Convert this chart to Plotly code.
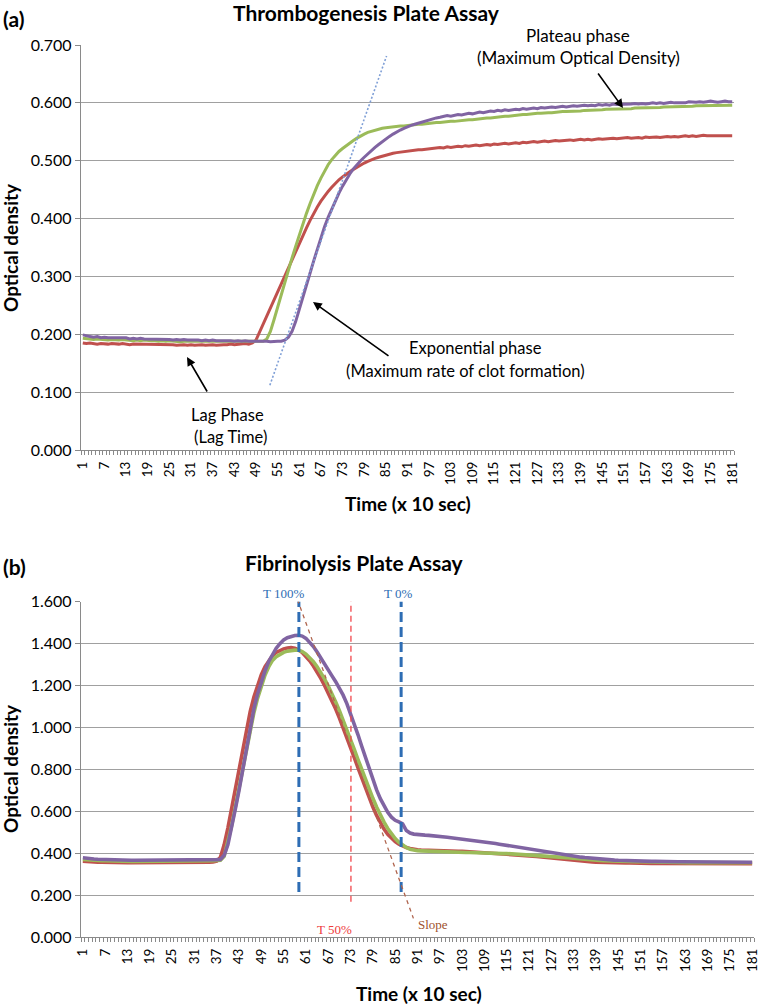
import plotly.graph_objects as go

W, H = 761, 1006

# ---------------- data ----------------
time_idx = list(range(1, 182))
tick_vals = list(range(1, 182, 6))
tick_text = [str(v) for v in tick_vals]

# (a) Thrombogenesis plate assay
thrombo_red = [
    0.185, 0.184, 0.185, 0.184, 0.183, 0.184, 0.183, 0.183, 0.184, 0.183,
    0.183, 0.184, 0.183, 0.182, 0.183, 0.183, 0.182, 0.183, 0.182, 0.182,
    0.183, 0.182, 0.182, 0.183, 0.182, 0.182, 0.181, 0.182, 0.182, 0.181,
    0.182, 0.181, 0.182, 0.182, 0.181, 0.182, 0.182, 0.181, 0.182, 0.182,
    0.182, 0.183, 0.182, 0.183, 0.183, 0.184, 0.183, 0.185, 0.190, 0.204,
    0.218, 0.232, 0.246, 0.260, 0.274, 0.288, 0.302, 0.316, 0.330, 0.344,
    0.358, 0.371, 0.384, 0.397, 0.409, 0.420, 0.430, 0.439, 0.447, 0.454,
    0.461, 0.467, 0.472, 0.477, 0.481, 0.485, 0.489, 0.493, 0.496, 0.499,
    0.502, 0.504, 0.506, 0.508, 0.510, 0.512, 0.513, 0.514, 0.515, 0.516,
    0.517, 0.517, 0.518, 0.519, 0.519, 0.520, 0.521, 0.521, 0.522, 0.523,
    0.522, 0.524, 0.523, 0.524, 0.525, 0.524, 0.526, 0.525, 0.526, 0.527,
    0.526, 0.527, 0.528, 0.527, 0.529, 0.528, 0.529, 0.530, 0.529, 0.530,
    0.531, 0.530, 0.532, 0.531, 0.532, 0.533, 0.532, 0.533, 0.534, 0.533,
    0.534, 0.535, 0.534, 0.535, 0.535, 0.536, 0.535, 0.536, 0.537, 0.536,
    0.537, 0.536, 0.537, 0.538, 0.537, 0.538, 0.538, 0.539, 0.538, 0.539,
    0.539, 0.540, 0.539, 0.540, 0.540, 0.539, 0.541, 0.540, 0.541, 0.541,
    0.540, 0.541, 0.542, 0.541, 0.542, 0.541, 0.542, 0.543, 0.542, 0.543,
    0.542, 0.543, 0.544, 0.543, 0.543, 0.544, 0.543, 0.544, 0.543, 0.544, 0.543,
]
thrombo_green = [
    0.193, 0.192, 0.192, 0.191, 0.192, 0.191, 0.191, 0.190, 0.191, 0.190,
    0.190, 0.191, 0.190, 0.190, 0.189, 0.190, 0.189, 0.190, 0.189, 0.189,
    0.189, 0.188, 0.189, 0.188, 0.189, 0.188, 0.188, 0.187, 0.188, 0.188,
    0.187, 0.188, 0.187, 0.187, 0.188, 0.187, 0.187, 0.188, 0.187, 0.187,
    0.187, 0.188, 0.187, 0.187, 0.188, 0.187, 0.188, 0.187, 0.188, 0.188,
    0.188, 0.192, 0.205, 0.225, 0.247, 0.269, 0.290, 0.311, 0.332, 0.352,
    0.372, 0.391, 0.409, 0.426, 0.442, 0.457, 0.470, 0.482, 0.493, 0.502,
    0.510, 0.516, 0.521, 0.526, 0.531, 0.535, 0.539, 0.543, 0.546, 0.549,
    0.551, 0.553, 0.554, 0.556, 0.557, 0.558, 0.558, 0.559, 0.560, 0.560,
    0.561, 0.562, 0.562, 0.563, 0.563, 0.564, 0.565, 0.565, 0.566, 0.566,
    0.567, 0.567, 0.568, 0.568, 0.569, 0.570, 0.570, 0.571, 0.571, 0.572,
    0.573, 0.573, 0.574, 0.574, 0.575, 0.576, 0.576, 0.577, 0.577, 0.578,
    0.579, 0.579, 0.580, 0.580, 0.581, 0.581, 0.582, 0.582, 0.583, 0.583,
    0.583, 0.584, 0.584, 0.585, 0.585, 0.585, 0.586, 0.586, 0.586, 0.587,
    0.587, 0.587, 0.588, 0.588, 0.588, 0.589, 0.589, 0.589, 0.589, 0.590,
    0.590, 0.590, 0.590, 0.591, 0.591, 0.591, 0.591, 0.592, 0.592, 0.592,
    0.592, 0.593, 0.593, 0.593, 0.593, 0.594, 0.594, 0.594, 0.594, 0.594,
    0.595, 0.595, 0.595, 0.595, 0.595, 0.596, 0.596, 0.596, 0.596, 0.596, 0.596,
]
thrombo_purple = [
    0.199, 0.197, 0.196, 0.195, 0.196, 0.194, 0.195, 0.194, 0.194, 0.193,
    0.194, 0.193, 0.194, 0.192, 0.193, 0.192, 0.193, 0.192, 0.192, 0.191,
    0.192, 0.191, 0.192, 0.191, 0.191, 0.190, 0.191, 0.190, 0.191, 0.190,
    0.190, 0.191, 0.190, 0.189, 0.190, 0.189, 0.190, 0.189, 0.189, 0.190,
    0.189, 0.189, 0.188, 0.189, 0.188, 0.189, 0.188, 0.188, 0.189, 0.188,
    0.188, 0.188, 0.187, 0.188, 0.188, 0.188, 0.190, 0.195, 0.205, 0.222,
    0.242, 0.263, 0.285, 0.306, 0.327, 0.348, 0.368, 0.386, 0.402, 0.417,
    0.431, 0.444, 0.456, 0.467, 0.477, 0.486, 0.494, 0.500, 0.506, 0.512,
    0.518, 0.523, 0.528, 0.533, 0.538, 0.542, 0.546, 0.550, 0.553, 0.556,
    0.559, 0.561, 0.563, 0.565, 0.567, 0.569, 0.571, 0.572, 0.574, 0.575,
    0.576, 0.578, 0.577, 0.579, 0.580, 0.579, 0.581, 0.582, 0.581, 0.583,
    0.584, 0.583, 0.585, 0.586, 0.585, 0.587, 0.586, 0.588, 0.587, 0.588,
    0.589, 0.588, 0.590, 0.589, 0.590, 0.591, 0.590, 0.592, 0.591, 0.592,
    0.593, 0.592, 0.593, 0.594, 0.593, 0.594, 0.595, 0.594, 0.595, 0.596,
    0.595, 0.596, 0.595, 0.597, 0.596, 0.597, 0.596, 0.598, 0.597, 0.597,
    0.598, 0.597, 0.598, 0.599, 0.598, 0.599, 0.598, 0.599, 0.600, 0.599,
    0.600, 0.599, 0.600, 0.601, 0.600, 0.600, 0.601, 0.600, 0.602, 0.601,
    0.601, 0.602, 0.601, 0.602, 0.603, 0.602, 0.601, 0.602, 0.603, 0.602, 0.602,
]
# dotted tangent line (exponential phase)
tangent_x = [52.85, 85.2]
tangent_y = [0.112, 0.681]

# (b) Fibrinolysis plate assay
fibrino_red = [
    0.362, 0.360, 0.359, 0.358, 0.357, 0.357, 0.356, 0.356, 0.355, 0.355,
    0.355, 0.354, 0.354, 0.354, 0.354, 0.353, 0.353, 0.354, 0.353, 0.353,
    0.353, 0.353, 0.353, 0.354, 0.353, 0.353, 0.354, 0.354, 0.354, 0.355,
    0.355, 0.355, 0.356, 0.356, 0.357, 0.358, 0.362, 0.380, 0.440, 0.520,
    0.610, 0.700, 0.790, 0.890, 0.990, 1.075, 1.145, 1.205, 1.252, 1.290,
    1.320, 1.342, 1.358, 1.368, 1.375, 1.379, 1.381, 1.378, 1.370, 1.357,
    1.340, 1.318, 1.293, 1.265, 1.234, 1.200, 1.165, 1.128, 1.088, 1.045,
    1.000, 0.953, 0.905, 0.856, 0.807, 0.758, 0.710, 0.664, 0.620, 0.580,
    0.545, 0.515, 0.490, 0.470, 0.455, 0.443, 0.434, 0.427, 0.422, 0.418,
    0.416, 0.415, 0.414, 0.413, 0.413, 0.412, 0.412, 0.411, 0.411, 0.410,
    0.410, 0.409, 0.409, 0.408, 0.407, 0.406, 0.405, 0.404, 0.402, 0.400,
    0.399, 0.398, 0.397, 0.396, 0.395, 0.394, 0.393, 0.392, 0.391, 0.390,
    0.388, 0.386, 0.384, 0.382, 0.380, 0.378, 0.376, 0.374, 0.372, 0.370,
    0.368, 0.366, 0.364, 0.362, 0.361, 0.360, 0.359, 0.358, 0.357, 0.356,
    0.356, 0.355, 0.355, 0.354, 0.354, 0.353, 0.353, 0.353, 0.352, 0.352,
    0.352, 0.352, 0.351, 0.351, 0.351, 0.351, 0.351, 0.350, 0.350, 0.350,
    0.350, 0.350, 0.349, 0.350, 0.350, 0.349, 0.350, 0.350, 0.350, 0.349,
    0.350, 0.350, 0.350, 0.349, 0.350, 0.350, 0.350, 0.351, 0.350, 0.350, 0.350,
]
fibrino_green = [
    0.370, 0.368, 0.367, 0.366, 0.365, 0.364, 0.364, 0.363, 0.363, 0.362,
    0.362, 0.362, 0.361, 0.361, 0.361, 0.361, 0.360, 0.360, 0.360, 0.360,
    0.360, 0.360, 0.360, 0.360, 0.360, 0.361, 0.361, 0.361, 0.361, 0.362,
    0.362, 0.362, 0.363, 0.363, 0.364, 0.364, 0.365, 0.366, 0.385, 0.450,
    0.530, 0.620, 0.710, 0.800, 0.900, 0.990, 1.070, 1.140, 1.200, 1.250,
    1.290, 1.320, 1.337, 1.350, 1.358, 1.364, 1.367, 1.369, 1.368, 1.362,
    1.350, 1.334, 1.314, 1.290, 1.262, 1.232, 1.198, 1.162, 1.122, 1.080,
    1.036, 0.990, 0.943, 0.895, 0.847, 0.799, 0.752, 0.706, 0.662, 0.620,
    0.582, 0.548, 0.518, 0.492, 0.470, 0.452, 0.438, 0.427, 0.419, 0.414,
    0.412, 0.411, 0.410, 0.409, 0.408, 0.408, 0.407, 0.406, 0.406, 0.405,
    0.405, 0.404, 0.404, 0.403, 0.403, 0.402, 0.402, 0.401, 0.401, 0.400,
    0.400, 0.399, 0.399, 0.398, 0.398, 0.397, 0.396, 0.396, 0.395, 0.394,
    0.393, 0.392, 0.391, 0.390, 0.389, 0.388, 0.386, 0.385, 0.383, 0.381,
    0.379, 0.377, 0.375, 0.373, 0.371, 0.369, 0.368, 0.367, 0.366, 0.365,
    0.364, 0.363, 0.362, 0.362, 0.361, 0.361, 0.360, 0.360, 0.359, 0.359,
    0.359, 0.358, 0.358, 0.358, 0.357, 0.357, 0.357, 0.357, 0.356, 0.356,
    0.356, 0.356, 0.356, 0.355, 0.355, 0.355, 0.355, 0.355, 0.355, 0.355,
    0.355, 0.354, 0.354, 0.354, 0.354, 0.354, 0.354, 0.354, 0.354, 0.354, 0.354,
]
fibrino_purple = [
    0.378, 0.375, 0.373, 0.372, 0.371, 0.370, 0.369, 0.369, 0.368, 0.368,
    0.367, 0.367, 0.367, 0.366, 0.366, 0.366, 0.366, 0.365, 0.365, 0.365,
    0.365, 0.365, 0.365, 0.365, 0.365, 0.365, 0.366, 0.366, 0.366, 0.366,
    0.366, 0.367, 0.367, 0.367, 0.368, 0.368, 0.369, 0.370, 0.390, 0.440,
    0.520, 0.610, 0.700, 0.800, 0.910, 1.010, 1.090, 1.160, 1.220, 1.270,
    1.315, 1.350, 1.378, 1.400, 1.417, 1.428, 1.435, 1.439, 1.440, 1.436,
    1.425, 1.408, 1.386, 1.360, 1.330, 1.298, 1.272, 1.246, 1.218, 1.188,
    1.154, 1.114, 1.068, 1.018, 0.965, 0.910, 0.856, 0.802, 0.750, 0.702,
    0.660, 0.624, 0.595, 0.572, 0.557, 0.549, 0.540, 0.508, 0.496, 0.491,
    0.488, 0.487, 0.486, 0.485, 0.484, 0.482, 0.480, 0.478, 0.476, 0.474,
    0.472, 0.470, 0.468, 0.466, 0.464, 0.462, 0.460, 0.458, 0.455, 0.452,
    0.449, 0.446, 0.443, 0.440, 0.437, 0.434, 0.431, 0.428, 0.425, 0.422,
    0.419, 0.416, 0.413, 0.410, 0.407, 0.404, 0.401, 0.398, 0.395, 0.392,
    0.389, 0.387, 0.385, 0.383, 0.381, 0.379, 0.377, 0.375, 0.373, 0.372,
    0.370, 0.369, 0.368, 0.367, 0.366, 0.365, 0.364, 0.364, 0.363, 0.363,
    0.362, 0.362, 0.361, 0.361, 0.361, 0.360, 0.360, 0.360, 0.360, 0.359,
    0.359, 0.359, 0.359, 0.359, 0.358, 0.358, 0.358, 0.358, 0.358, 0.358,
    0.358, 0.358, 0.357, 0.357, 0.357, 0.357, 0.357, 0.357, 0.357, 0.357, 0.357,
]
# reference marker lines of panel (b)
t100_x = [59.1, 59.1]
t100_y = [0.215, 1.62]
t0_x = [86.6, 86.6]
t0_y = [0.215, 1.62]
t50_x = [73.1, 73.1]
t50_y = [0.168, 1.70]
slope_x = [56.5, 89.9]
slope_y = [1.718, 0.089]

# ---------------- styling ----------------
RED, GREEN, PURPLE = "#C0504D", "#9BBB59", "#8064A2"
AXIS_COL = "#8a8a8a"
GRID_COL = "#a0a0a0"
FONT = "Lato"
SERIF = "Liberation Serif"


def px(x):
    return x / W


def py(y):
    return 1 - y / H


fig = go.Figure()
for ys, col in [(thrombo_red, RED), (thrombo_green, GREEN), (thrombo_purple, PURPLE)]:
    fig.add_trace(go.Scatter(x=time_idx, y=ys, mode="lines", xaxis="x", yaxis="y",
                             line=dict(color=col, width=3), showlegend=False,
                             hoverinfo="skip"))
for ys, col in [(fibrino_red, RED), (fibrino_green, GREEN), (fibrino_purple, PURPLE)]:
    fig.add_trace(go.Scatter(x=time_idx, y=ys, mode="lines", xaxis="x2", yaxis="y2",
                             line=dict(color=col, width=3.6), showlegend=False,
                             hoverinfo="skip"))

shapes = [
    dict(type="line", xref="x", yref="y", x0=tangent_x[0], y0=tangent_y[0],
         x1=tangent_x[1], y1=tangent_y[1],
         line=dict(color="#7F9FD6", width=1.6, dash="2px,2px")),
    dict(type="line", xref="x2", yref="y2", x0=t100_x[0], y0=t100_y[0],
         x1=t100_x[1], y1=t100_y[1],
         line=dict(color="#2E6DB4", width=3, dash="10px,5px")),
    dict(type="line", xref="x2", yref="y2", x0=t0_x[0], y0=t0_y[0],
         x1=t0_x[1], y1=t0_y[1],
         line=dict(color="#2E6DB4", width=3, dash="10px,5px")),
    dict(type="line", xref="x2", yref="y2", x0=t50_x[0], y0=t50_y[0],
         x1=t50_x[1], y1=t50_y[1],
         line=dict(color="#F2474B", width=1.3, dash="6px,4px")),
    dict(type="line", xref="x2", yref="y2", x0=slope_x[0], y0=slope_y[0],
         x1=slope_x[1], y1=slope_y[1],
         line=dict(color="#B0654E", width=1.3, dash="4px,4px")),
]


def txt(x, y, s, size=15, bold=False, color="black", family=FONT, xanchor="center", angle=0):
    return dict(xref="paper", yref="paper", x=px(x), y=py(y), text=("<b>%s</b>" % s) if bold else s,
                showarrow=False, xanchor=xanchor, yanchor="middle", textangle=angle,
                font=dict(size=size, color=color, family=family))


def arrow(tip_x, tip_y, tail_x, tail_y):
    return dict(xref="paper", yref="paper", x=px(tip_x), y=py(tip_y), text="",
                showarrow=True, ax=tail_x - tip_x, ay=tail_y - tip_y,
                arrowhead=2, arrowsize=1.1, arrowwidth=1.6, arrowcolor="#000000")


annotations = [
    txt(1, 18, "(a)", size=21, bold=True, xanchor="left"),
    txt(366, 13, "Thrombogenesis Plate Assay", size=21, bold=True),
    txt(578, 35, "Plateau phase", size=17),
    txt(578, 57, "(Maximum Optical Density)", size=17),
    txt(476, 348, "Exponential phase", size=16.5),
    txt(466, 371, "(Maximum rate of clot formation)", size=16.5),
    txt(228, 415, "Lag Phase", size=16.5),
    txt(230, 437, "(Lag Time)", size=16.5),
    arrow(623, 108, 597, 72),
    arrow(313, 302, 390, 357),
    arrow(187, 357, 208, 393),
    txt(10, 248, "Optical density", size=19, bold=True, angle=-90),
    txt(408, 504, "Time (x 10 sec)", size=19, bold=True),
    txt(1, 566, "(b)", size=21, bold=True, xanchor="left"),
    txt(354, 562, "Fibrinolysis Plate Assay", size=21, bold=True),
    txt(283, 593, "T 100%", size=13, color="#2E6DB4", family=SERIF),
    txt(398, 593, "T 0%", size=13, color="#2E6DB4", family=SERIF),
    txt(334, 929, "T 50%", size=13, color="#EE3B3B", family=SERIF),
    txt(433, 924, "Slope", size=13, color="#A0522D", family=SERIF),
    txt(10, 769, "Optical density", size=19, bold=True, angle=-90),
    txt(419, 993, "Time (x 10 sec)", size=19, bold=True),
]


def xaxis_cfg(domain, anchor):
    return dict(domain=domain, anchor=anchor, range=[0.5, 181.5], tickmode="array",
                tickvals=tick_vals, ticktext=tick_text, tickangle=-90, showgrid=False,
                zeroline=False, showline=True, linecolor=AXIS_COL, linewidth=1.3,
                ticks="", ticklabelstandoff=5, automargin=False,
                ticklabeloverflow="allow",
                tickfont=dict(family=FONT, size=13.5, color="black"),
                minor=dict(ticks="outside", ticklen=4, tick0=0.5, dtick=1,
                           tickcolor=AXIS_COL, tickwidth=1, showgrid=False))


def yaxis_cfg(domain, anchor, vals):
    return dict(domain=domain, anchor=anchor, range=[0, vals[-1]], tickmode="array",
                tickvals=vals, ticktext=["%.3f" % v for v in vals], showgrid=True,
                gridcolor=GRID_COL, gridwidth=1, zeroline=False, showline=True,
                linecolor=AXIS_COL, linewidth=1.3, ticks="outside", ticklen=5,
                tickcolor=AXIS_COL, automargin=False,
                tickfont=dict(family=FONT, size=16, color="black"))


top_y_ticks = [0.0, 0.1, 0.2, 0.3, 0.4, 0.5, 0.6, 0.7]
bot_y_ticks = [0.0, 0.2, 0.4, 0.6, 0.8, 1.0, 1.2, 1.4, 1.6]

fig.update_layout(
    width=W, height=H, margin=dict(l=0, r=0, t=0, b=0, autoexpand=False),
    paper_bgcolor="white", plot_bgcolor="white", showlegend=False,
    xaxis=xaxis_cfg([px(81), px(734)], "y"),
    yaxis=yaxis_cfg([py(450), py(45)], "x", top_y_ticks),
    xaxis2=xaxis_cfg([px(81), px(754)], "y2"),
    yaxis2=yaxis_cfg([py(937), py(601.7)], "x2", bot_y_ticks),
    shapes=shapes, annotations=annotations,
)

fig.write_html("out.html", config={"displayModeBar": False},
               post_script="document.body.style.margin='0px';document.body.style.padding='0px';")
